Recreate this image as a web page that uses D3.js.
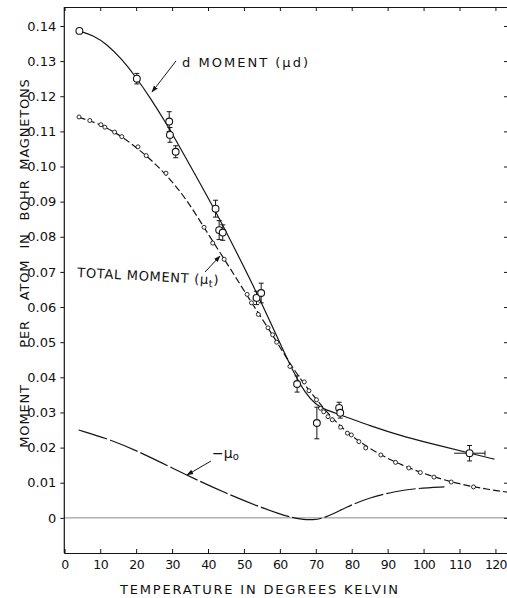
<!DOCTYPE html>
<html>
<head>
<meta charset="utf-8">
<script src="https://cdn.jsdelivr.net/npm/d3@7"></script>
<style>
  body { margin: 0; background: #fff; }
  svg { display: block; }
  text { font-family: "DejaVu Sans", sans-serif; fill: #111; }
</style>
</head>
<body>
<div id="chart"></div>
<script>
// d moment measurements (big circles with error bars)
const dTemp   = [4.2, 20.2, 29.2, 29.4, 31.0, 42.1, 43.1, 44.1, 53.5, 54.8, 64.8, 70.3, 76.5, 76.8, 112.8];
const dMoment = [0.1386, 0.1250, 0.1128, 0.1090, 0.1042, 0.0880, 0.0819, 0.0812, 0.0626, 0.0640, 0.0381, 0.0270, 0.0313, 0.0299, 0.0184];
const dErr    = [0, 0.0015, 0.0028, 0.0021, 0.0017, 0.0024, 0.0027, 0.0022, 0.0019, 0.0028, 0.0023, 0.0045, 0.0016, 0.0015, 0.0022];
const dTempErr = [0, 0, 0, 0, 0, 0, 0, 0, 0, 0, 0, 0, 0, 0, 4.3];

// fitted d moment curve (solid)
const dCurveT = [4, 8, 12, 16, 20, 24, 28, 32, 36, 42, 48, 54, 60, 64, 67, 70, 73, 77, 85, 95, 105, 115, 119.7];
const dCurveV = [0.1386, 0.1374, 0.1347, 0.1306, 0.1254, 0.1194, 0.1129, 0.1058, 0.0985, 0.0875, 0.0755, 0.0632, 0.0498, 0.0410, 0.0356, 0.0322, 0.0306, 0.0293, 0.0262, 0.0229, 0.0204, 0.0179, 0.0167];

// total moment measurements (small circles)
const tTemp = [4.1, 7.1, 10.2, 11.3, 14.0, 16.0, 20.5, 22.8, 28.3, 38.9, 41.3, 44.5, 50.9, 52.1, 54.0, 56.7, 58.0, 59.1, 62.8, 66.8, 68.1, 70.2, 71.3, 72.2, 73.4, 74.6, 76.9, 78.8, 79.9, 82.0, 83.9, 88.1, 92.2, 95.9, 99.1, 102.9, 107.7, 113.9];
const tMoment = [0.1141, 0.1131, 0.1119, 0.1112, 0.1098, 0.1085, 0.1056, 0.1031, 0.0981, 0.0827, 0.0782, 0.0736, 0.0636, 0.0612, 0.0579, 0.0541, 0.0521, 0.0500, 0.0431, 0.0387, 0.0362, 0.0336, 0.0312, 0.0302, 0.0288, 0.0279, 0.0258, 0.0241, 0.0236, 0.0217, 0.0199, 0.0179, 0.0158, 0.0142, 0.0129, 0.0116, 0.0102, 0.0088];

// fitted total moment curve (dashed)
const tCurveT = [4, 10, 16, 22, 28, 34, 40, 46, 52, 58, 64, 70, 76, 82, 88, 94, 100, 106, 112, 118, 123.5];
const tCurveV = [0.1140, 0.1121, 0.1086, 0.1039, 0.0982, 0.0908, 0.0808, 0.0713, 0.0614, 0.0521, 0.0418, 0.0338, 0.0266, 0.0217, 0.0179, 0.0150, 0.0126, 0.0107, 0.0092, 0.0081, 0.0073];

// -mu0 curve (long dashes)
const m0T = [4, 12.8, 22, 34.1, 45.2, 54.4, 60, 63, 66, 69.2, 72.5, 78.5, 85, 92.4, 98, 105.8];
const m0V = [0.0250, 0.0223, 0.0183, 0.0121, 0.0069, 0.0031, 0.0011, 0.0002, -0.0004, -0.0006, -0.0001, 0.0031, 0.0058, 0.0076, 0.0084, 0.0088];

const xTicks = d3.range(0, 121, 10);
const yTicks = [0, 0.01, 0.02, 0.03, 0.04, 0.05, 0.06, 0.07, 0.08, 0.09, 0.10, 0.11, 0.12, 0.13, 0.14];

const width = 507, height = 598;

const svg = d3.select("#chart")
  .append("svg")
  .attr("width", width)
  .attr("height", height);

const x = d3.scaleLinear().domain([0, 123.5]).range([64.3, 508]);
const y = d3.scaleLinear().domain([-0.01, 0.1454]).range([553, 7]);

const ink = "#151515";

// arrow head
svg.append("defs").append("marker")
  .attr("id", "arrow")
  .attr("viewBox", "0 0 10 10")
  .attr("refX", 9).attr("refY", 5)
  .attr("markerWidth", 7).attr("markerHeight", 7)
  .attr("orient", "auto")
  .append("path")
  .attr("d", "M0,1.5 L10,5 L0,8.5 Z")
  .attr("fill", ink);

// zero line
svg.append("line")
  .attr("x1", x(0)).attr("x2", width)
  .attr("y1", y(0)).attr("y2", y(0))
  .attr("stroke", "#8a8a8a")
  .attr("stroke-width", 1);

// frame: left, bottom, top, right axes
const leftAxis = svg.append("g").attr("transform", `translate(${x(0)},0)`)
  .call(d3.axisLeft(y).tickValues(yTicks).tickSize(4).tickPadding(4)
    .tickFormat(d => d === 0 ? "0" : d3.format(".2f")(d)));
leftAxis.select(".domain").attr("d", `M0,${y(-0.01)}V${y(0.1454)}`);

const bottomAxis = svg.append("g").attr("transform", `translate(0,${y(-0.01)})`)
  .call(d3.axisBottom(x).tickValues(xTicks).tickSize(-4).tickPadding(5)
    .tickFormat(d3.format("d")));

svg.append("g").attr("transform", `translate(0,${y(0.1454)})`)
  .call(d3.axisTop(x).tickValues(xTicks).tickSize(-4).tickFormat(""));

svg.append("g").attr("transform", `translate(${x(123.5)},0)`)
  .call(d3.axisRight(y).tickValues(yTicks).tickSize(-4).tickFormat(""));

svg.selectAll(".domain").attr("stroke", ink).attr("stroke-width", 1.2);
svg.selectAll(".tick line").attr("stroke", ink);
svg.selectAll(".tick text")
  .attr("font-size", 13)
  .attr("font-family", "DejaVu Sans, sans-serif")
  .attr("fill", ink);
bottomAxis.selectAll(".tick text")
  .attr("dy", "0.9em")
  .attr("font-size", 12.5)
  .attr("letter-spacing", -0.6);

// axis titles
svg.append("text")
  .attr("x", 259).attr("y", 594)
  .attr("text-anchor", "middle")
  .attr("font-size", 13)
  .attr("textLength", 278)
  .attr("lengthAdjust", "spacing")
  .text("TEMPERATURE IN DEGREES KELVIN");

const yWords = [["MOMENT", 416], ["PER", 334], ["ATOM", 280], ["IN", 241], ["BOHR", 200], ["MAGNETONS", 124]];
yWords.forEach(([w, cy]) => {
  svg.append("text")
    .attr("transform", `translate(24,${cy}) rotate(-90)`)
    .attr("text-anchor", "middle")
    .attr("dy", "0.35em")
    .attr("font-size", 13)
    .attr("letter-spacing", 0.8)
    .text(w);
});

// curves
const line = d3.line()
  .x(d => x(d[0]))
  .y(d => y(d[1]))
  .curve(d3.curveBasis);

svg.append("path")
  .datum(dCurveT.map((t, i) => [t, dCurveV[i]]))
  .attr("d", line)
  .attr("fill", "none")
  .attr("stroke", ink)
  .attr("stroke-width", 1.2);

svg.append("path")
  .datum(tCurveT.map((t, i) => [t, tCurveV[i]]))
  .attr("d", line)
  .attr("fill", "none")
  .attr("stroke", ink)
  .attr("stroke-width", 1.2)
  .attr("stroke-dasharray", "7,3");

svg.append("path")
  .datum(m0T.map((t, i) => [t, m0V[i]]))
  .attr("d", line)
  .attr("fill", "none")
  .attr("stroke", ink)
  .attr("stroke-width", 1.2)
  .attr("stroke-dasharray", "30,3");

// total moment points
svg.append("g").selectAll("circle")
  .data(tTemp.map((t, i) => [t, tMoment[i]]))
  .join("circle")
  .attr("cx", d => x(d[0]))
  .attr("cy", d => y(d[1]))
  .attr("r", 2)
  .attr("fill", "#fff")
  .attr("stroke", ink)
  .attr("stroke-width", 0.9);

// d moment points with error bars
const dPts = dTemp.map((t, i) => ({ t, v: dMoment[i], e: dErr[i], xe: dTempErr[i] }));
const eb = svg.append("g").attr("stroke", ink).attr("stroke-width", 1);
dPts.filter(d => d.e > 0).forEach(d => {
  const cx = x(d.t);
  eb.append("line").attr("x1", cx).attr("x2", cx).attr("y1", y(d.v - d.e)).attr("y2", y(d.v + d.e));
  eb.append("line").attr("x1", cx - 2.5).attr("x2", cx + 2.5).attr("y1", y(d.v - d.e)).attr("y2", y(d.v - d.e));
  eb.append("line").attr("x1", cx - 2.5).attr("x2", cx + 2.5).attr("y1", y(d.v + d.e)).attr("y2", y(d.v + d.e));
  if (d.xe > 0) {
    const cy = y(d.v);
    eb.append("line").attr("x1", x(d.t - d.xe)).attr("x2", x(d.t + d.xe)).attr("y1", cy).attr("y2", cy);
    eb.append("line").attr("x1", x(d.t + d.xe)).attr("x2", x(d.t + d.xe)).attr("y1", cy - 2.5).attr("y2", cy + 2.5);
  }
});

svg.append("g").selectAll("circle")
  .data(dPts)
  .join("circle")
  .attr("cx", d => x(d.t))
  .attr("cy", d => y(d.v))
  .attr("r", 3.4)
  .attr("fill", "#fff")
  .attr("stroke", ink)
  .attr("stroke-width", 1.1);

// annotations
function arrow(x1, y1, x2, y2) {
  svg.append("line")
    .attr("x1", x1).attr("y1", y1).attr("x2", x2).attr("y2", y2)
    .attr("stroke", ink).attr("stroke-width", 1)
    .attr("marker-end", "url(#arrow)");
}

const dLabel = svg.append("text").attr("x", 182).attr("y", 67)
  .attr("font-size", 13)
  .attr("textLength", 126)
  .attr("lengthAdjust", "spacing");
dLabel.append("tspan").text("d  MOMENT  (μ");
dLabel.append("tspan").text("d");
dLabel.append("tspan").text(")");
arrow(176, 61, 152, 92);

const tLabel = svg.append("text")
  .attr("transform", "translate(77,277) rotate(3)")
  .attr("font-size", 13)
  .attr("letter-spacing", 0.7);
tLabel.append("tspan").text("TOTAL  MOMENT  (μ");
tLabel.append("tspan").attr("font-size", 10).attr("dy", 3).text("t");
tLabel.append("tspan").attr("dy", -3).text(")");
arrow(205, 272, 220, 256);

const mLabel = svg.append("text").attr("x", 212).attr("y", 458).attr("font-size", 14);
mLabel.append("tspan").text("−μ");
mLabel.append("tspan").attr("font-size", 10).attr("dy", 2).text("o");
arrow(211, 461, 187, 475);
</script>
</body>
</html>
